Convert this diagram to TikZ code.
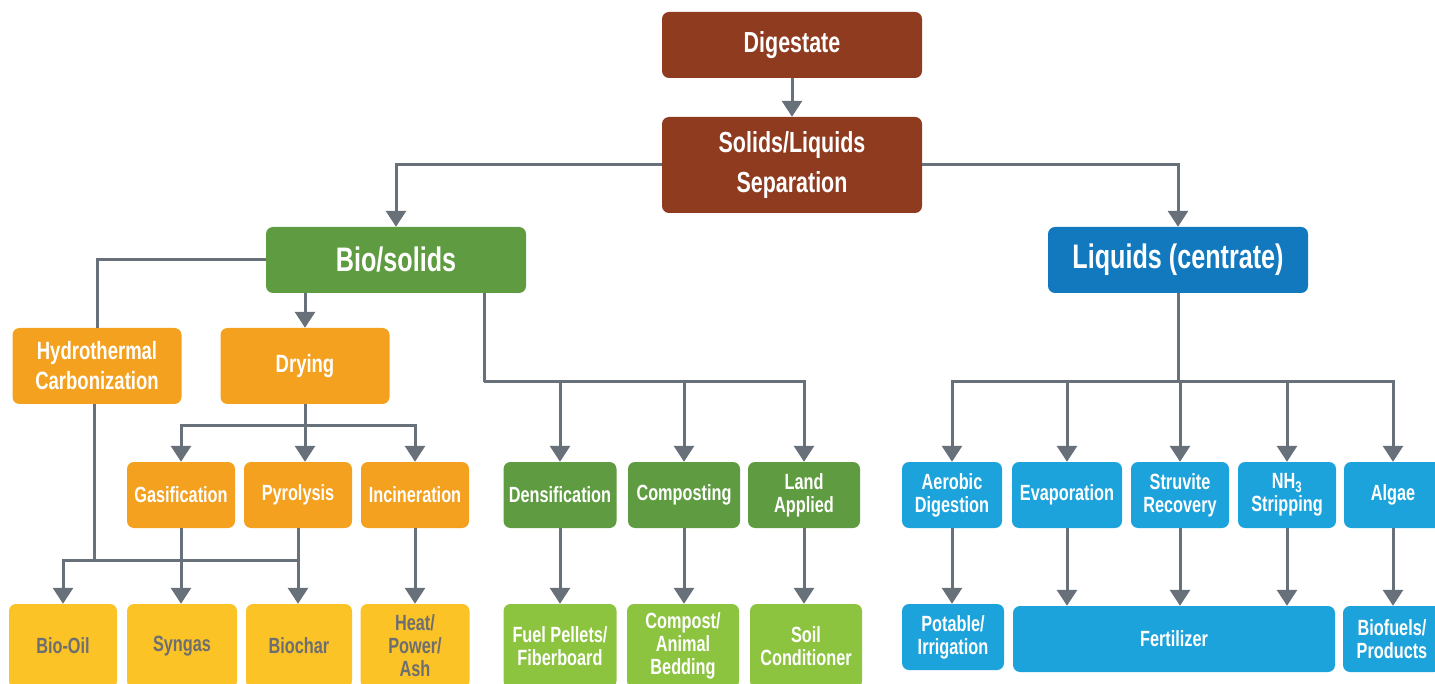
\documentclass[tikz,border=0pt]{standalone}
\usepackage{fontspec}
\setmainfont{Liberation Sans}[FakeStretch=0.74]
\usetikzlibrary{arrows.meta}

\definecolor{cBrown}{HTML}{8F3B1F}
\definecolor{cGreen}{HTML}{5F9B41}
\definecolor{cLight}{HTML}{8CC43F}
\definecolor{cNavy}{HTML}{1379BE}
\definecolor{cSky}{HTML}{1DA3DC}
\definecolor{cOrange}{HTML}{F4A11F}
\definecolor{cYellow}{HTML}{FBC326}
\definecolor{cLine}{HTML}{68707A}
\definecolor{cText}{HTML}{6D6E71}

\begin{document}
\begin{tikzpicture}[x=1pt, y=-1pt, >={Triangle[width=20pt,length=16pt]},
    box/.style={rounded corners=7pt, text=white, align=center, inner sep=0pt},
    huge/.style={font=\bfseries\fontsize{34}{40}\selectfont},
    large/.style={font=\bfseries\fontsize{29}{40}\selectfont},
    mid/.style={font=\bfseries\fontsize{25}{30}\selectfont},
    small/.style={font=\bfseries\fontsize{22}{23}\selectfont},
    flow/.style={draw=cLine, line width=3pt}]
    \useasboundingbox (0,0) rectangle (1435,684);

    % Top
    \node[box, large, fill=cBrown, minimum width=260pt, minimum height=66pt] (dig) at (792,45) {Digestate};
    \node[box, large, fill=cBrown, minimum width=260pt, minimum height=96pt] (sep) at (792,165) {Solids/Liquids\\Separation};

    % Second level
    \node[box, huge, fill=cGreen, minimum width=260pt, minimum height=66pt] (bio) at (396,260) {Bio/solids};
    \node[box, huge, fill=cNavy, minimum width=260pt, minimum height=66pt] (liq) at (1178,260) {Liquids (centrate)};

    % Thermal branch
    \node[box, mid, fill=cOrange, minimum width=169pt, minimum height=76pt] (hyd) at (97,366) {Hydrothermal\\Carbonization};
    \node[box, mid, fill=cOrange, minimum width=169pt, minimum height=76pt] (dry) at (305,366) {Drying};
    \node[box, small, fill=cOrange, minimum width=108pt, minimum height=66pt] (gas) at (181,495) {Gasification};
    \node[box, small, fill=cOrange, minimum width=108pt, minimum height=66pt] (pyr) at (298,495) {Pyrolysis};
    \node[box, small, fill=cOrange, minimum width=108pt, minimum height=66pt] (inc) at (415,495) {Incineration};
    \node[box, small, fill=cYellow, text=cText, minimum width=108pt, minimum height=84pt] (oil) at (63,646) {Bio-Oil};
    \node[box, small, fill=cYellow, text=cText, minimum width=110pt, minimum height=84pt] (syn) at (182,646) {Syngas};
    \node[box, small, fill=cYellow, text=cText, minimum width=106pt, minimum height=84pt] (char) at (299,646) {Biochar};
    \node[box, small, fill=cYellow, text=cText, minimum width=109pt, minimum height=84pt] (heat) at (415,646) {Heat/\\Power/\\Ash};

    % Other solids uses
    \node[box, small, fill=cGreen, minimum width=113pt, minimum height=66pt] (dens) at (560,495) {Densification};
    \node[box, small, fill=cGreen, minimum width=112pt, minimum height=66pt] (comp) at (684,495) {Composting};
    \node[box, small, fill=cGreen, minimum width=112pt, minimum height=66pt] (land) at (804,495) {Land\\Applied};
    \node[box, small, fill=cLight, minimum width=113pt, minimum height=84pt] (pel) at (560,646) {Fuel Pellets/\\Fiberboard};
    \node[box, small, fill=cLight, minimum width=112pt, minimum height=84pt] (bed) at (683,646) {Compost/\\Animal\\Bedding};
    \node[box, small, fill=cLight, minimum width=112pt, minimum height=84pt] (soil) at (806,646) {Soil\\Conditioner};

    % Liquids uses
    \node[box, small, fill=cSky, minimum width=100pt, minimum height=66pt] (aer) at (952,495) {Aerobic\\Digestion};
    \node[box, small, fill=cSky, minimum width=110pt, minimum height=66pt] (evap) at (1067,495) {Evaporation};
    \node[box, small, fill=cSky, minimum width=98pt, minimum height=66pt] (stru) at (1180,495) {Struvite\\Recovery};
    \node[box, small, fill=cSky, minimum width=98pt, minimum height=66pt] (nh) at (1287,495) {NH\textsubscript{3}\\Stripping};
    \node[box, small, fill=cSky, minimum width=98pt, minimum height=66pt] (alg) at (1393,495) {Algae};
    \node[box, small, fill=cSky, minimum width=102pt, minimum height=66pt] (pot) at (953,637) {Potable/\\Irrigation};
    \node[box, small, fill=cSky, minimum width=322pt, minimum height=66pt] (fert) at (1174,639) {Fertilizer};
    \node[box, small, fill=cSky, minimum width=98pt, minimum height=66pt] (fuel) at (1392,639) {Biofuels/\\Products};

    % Connectors at the top
    \draw[flow, ->] (dig) -- (sep);
    \draw[flow, ->] (sep.west) -| (bio.north);
    \draw[flow, ->] (sep.east) -| (liq.north);

    % Connectors of the solids
    \draw[flow] (bio.west) -| (hyd.north);
    \draw[flow, ->] (bio.south -| dry.north) -- (dry.north);
    \coordinate (dbus) at (305,425);
    \draw[flow] (dry.south) -- (dbus);
    \draw[flow, ->] (dbus) -| (gas.north);
    \draw[flow, ->] (dbus) -| (inc.north);
    \draw[flow, ->] (dry.south) -- (dry.south |- pyr.north);
    \coordinate (hbus) at (94,560);
    \draw[flow] (hyd.south -| hbus) -- (hbus);
    \draw[flow, ->] (hbus) -| (oil.north);
    \draw[flow] (hbus) -- (hbus -| pyr.south);
    \draw[flow, ->] (gas.south) -- (gas.south |- syn.north);
    \draw[flow, ->] (pyr.south) -- (pyr.south |- char.north);
    \draw[flow, ->] (inc.south) -- (inc.south |- heat.north);
    \coordinate (gbus) at (484,382);
    \draw[flow] (bio.south -| gbus) -- (gbus);
    \draw[flow, ->] (gbus) -| (land.north);
    \foreach \n in {dens,comp}
        \draw[flow, ->] (gbus -| \n.north) -- (\n.north);
    \draw[flow, ->] (dens) -- (pel);
    \draw[flow, ->] (comp.south) -- (comp.south |- bed.north);
    \draw[flow, ->] (land.south) -- (land.south |- soil.north);

    % Connectors of the liquids
    \coordinate (lbus) at (1178,382);
    \draw[flow] (liq.south) -- (lbus);
    \draw[flow, ->] (lbus) -| (aer.north);
    \draw[flow, ->] (lbus) -| (alg.north);
    \foreach \n in {evap,stru,nh}
        \draw[flow, ->] (lbus -| \n.north) -- (\n.north);
    \draw[flow, ->] (aer.south) -- (aer.south |- pot.north);
    \foreach \n in {evap,stru,nh}
        \draw[flow, ->] (\n.south) -- (\n.south |- fert.north);
    \draw[flow, ->] (alg.south) -- (alg.south |- fuel.north);
\end{tikzpicture}
\end{document}
